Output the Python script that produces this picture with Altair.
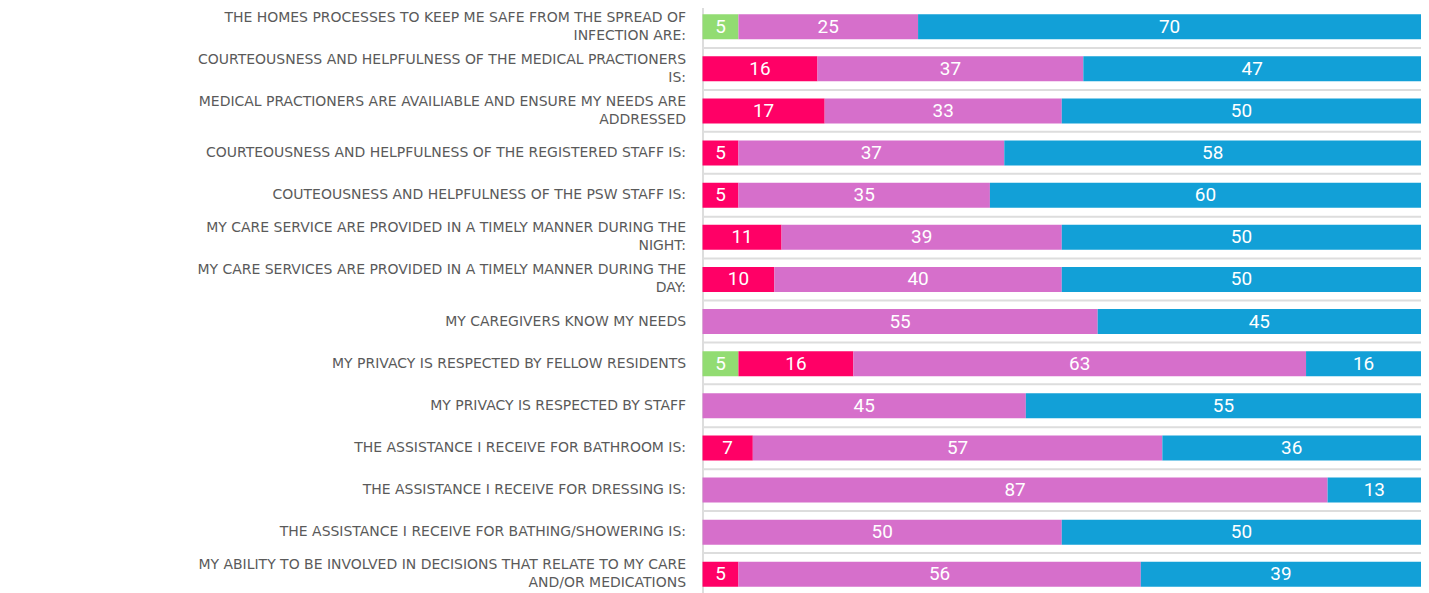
import altair as alt
import pandas as pd

questions = [
    "THE HOMES PROCESSES TO KEEP ME SAFE FROM THE SPREAD OF\nINFECTION ARE:",
    "COURTEOUSNESS AND HELPFULNESS OF THE MEDICAL PRACTIONERS\nIS:",
    "MEDICAL PRACTIONERS ARE AVAILIABLE AND ENSURE MY NEEDS ARE\nADDRESSED",
    "COURTEOUSNESS AND HELPFULNESS OF THE REGISTERED STAFF IS:",
    "COUTEOUSNESS AND HELPFULNESS OF THE PSW STAFF IS:",
    "MY CARE SERVICE ARE PROVIDED IN A TIMELY MANNER DURING THE\nNIGHT:",
    "MY CARE SERVICES ARE PROVIDED IN A TIMELY MANNER DURING THE\nDAY:",
    "MY CAREGIVERS KNOW MY NEEDS",
    "MY PRIVACY IS RESPECTED BY FELLOW RESIDENTS",
    "MY PRIVACY IS RESPECTED BY STAFF",
    "THE ASSISTANCE I RECEIVE FOR BATHROOM IS:",
    "THE ASSISTANCE I RECEIVE FOR DRESSING IS:",
    "THE ASSISTANCE I RECEIVE FOR BATHING/SHOWERING IS:",
    "MY ABILITY TO BE INVOLVED IN DECISIONS THAT RELATE TO MY CARE\nAND/OR MEDICATIONS",
]

series = ["Poor", "Fair", "Good", "Excellent"]
poor = [5, 0, 0, 0, 0, 0, 0, 0, 5, 0, 0, 0, 0, 0]
fair = [0, 16, 17, 5, 5, 11, 10, 0, 16, 0, 7, 0, 0, 5]
good = [25, 37, 33, 37, 35, 39, 40, 55, 63, 45, 57, 87, 50, 56]
excellent = [70, 47, 50, 58, 60, 50, 50, 45, 16, 55, 36, 13, 50, 39]
colors = ["#92DC72", "#FF0066", "#D66FCB", "#12A0D7"]

rows = []
for i, q in enumerate(questions):
    for j, vals in enumerate([poor, fair, good, excellent]):
        v = vals[i]
        if v > 0:
            rows.append({"q": q, "series": series[j], "order": j, "value": v})
df = pd.DataFrame(rows)

y_enc = alt.Y(
    "q:N",
    sort=questions,
    scale=alt.Scale(paddingInner=0, paddingOuter=0),
    axis=alt.Axis(
        title=None,
        bandPosition=0,
        grid=True,
        gridColor="#dddddd",
        gridWidth=2,
        ticks=False,
        domain=True,
        domainColor="#dddddd",
        domainWidth=2,
        labelPadding=17,
        labelFont="DejaVu Sans",
        labelFontSize=14,
        labelColor="#5a5a5a",
        labelLineHeight=18,
        labelLimit=0,
        labelOffset={"condition": {"test": "indexof(datum.value, '\\n') >= 0", "value": -9}, "value": 0},
        labelExpr="split(datum.label, '\\n')",
        minExtent=696,
        maxExtent=696,
    ),
)

base = (
    alt.Chart(df)
    .transform_stack(
        stack="value",
        as_=["x0", "x1"],
        groupby=["q"],
        sort=[alt.SortField("order", order="ascending")],
    )
    .transform_calculate(mid="(datum.x0 + datum.x1) / 2")
)

xscale = alt.Scale(domain=[0, 100], nice=False, zero=True)

bars = base.mark_bar(size=25).encode(
    y=y_enc,
    x=alt.X("x0:Q", scale=xscale, axis=None),
    x2="x1:Q",
    color=alt.Color("series:N", scale=alt.Scale(domain=series, range=colors), legend=None),
)

labels = base.mark_text(color="white", fontSize=19, font="Roboto").encode(
    y=alt.Y("q:N", sort=questions),
    x=alt.X("mid:Q", scale=xscale, axis=None),
    text="value:Q",
)

chart = (
    alt.layer(bars, labels)
    .properties(width=720, height=591, padding={"left": 0, "top": -3, "right": 0, "bottom": 0})
    .configure_view(stroke=None)
)

chart.save("out.html", embed_options={"renderer": "svg", "actions": False})
